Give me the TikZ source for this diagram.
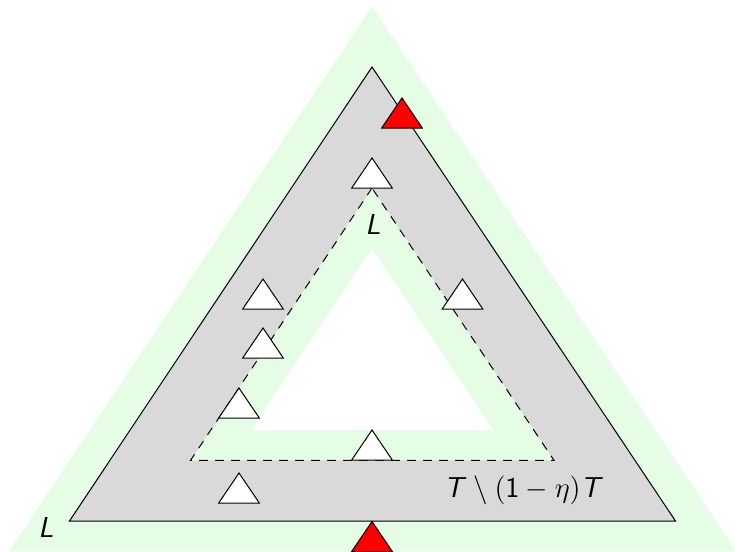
\documentclass[tikz,border=0pt]{standalone}
\usetikzlibrary{calc}
\DeclareMathAlphabet{\mathsfit}{OT1}{cmss}{m}{sl}
\definecolor{bandgreen}{RGB}{229,252,229}
\definecolor{ringgray}{RGB}{217,217,217}
\tikzset{
  outline/.style={draw=black,line width=0.5pt},
  dashline/.style={draw=black,line width=0.5pt,dash pattern=on 4.3pt off 3.7pt},
  marker/.pic={\path[draw=black,line width=0.5pt,pic actions] (-20.3,0) -- (0,-30) -- (20.3,0) -- cycle;},
  whitemark/.style={fill=white},
  redmark/.style={fill=red},
  lab/.style={font=\Large,inner sep=0pt}
}
\begin{document}
\begin{tikzpicture}[x=0.5pt,y=-0.5pt,line join=miter]
\path[use as bounding box] (0,0) rectangle (735,552);
\clip (0,0) rectangle (735,552);
\coordinate (A) at (372,67);
\coordinate (B) at (69.5,521);
\coordinate (C) at (675.5,521);
\coordinate (G) at (372,369.67);
% outer green band
\fill[bandgreen] ($(G)!1.2!(A)$) -- ($(G)!1.2!(B)$) -- ($(G)!1.2!(C)$) -- cycle;
% triangle T
\path[outline,fill=ringgray] (A) -- (B) -- (C) -- cycle;
% (1-eta)T
\path[dashline,fill=bandgreen] ($(G)!0.6!(A)$) -- ($(G)!0.6!(B)$) -- ($(G)!0.6!(C)$) -- cycle;
% hole
\fill[white] ($(G)!0.4!(A)$) -- ($(G)!0.4!(B)$) -- ($(G)!0.4!(C)$) -- cycle;
% markers
\pic[whitemark] at (372,188) {marker};
\pic[whitemark] at (263,309) {marker};
\pic[whitemark] at (263,358) {marker};
\pic[whitemark] at (239,418) {marker};
\pic[whitemark] at (462.5,309) {marker};
\pic[whitemark] at (239,503) {marker};
\pic[whitemark] at (372,460) {marker};
\pic[redmark] at (402,128) {marker};
\pic[redmark] at (372,551.5) {marker};
% labels
\node[lab] (ltop) at (373,224) {$\mathsfit{L}$};
\node[lab] (lbot) at (46,527) {$\mathsfit{L}$};
\node[lab] (diff) at (524,490) {$\mathsfit{T}\setminus(\mathsf{1}-\eta)\mathsfit{T}$};
\end{tikzpicture}
\end{document}
